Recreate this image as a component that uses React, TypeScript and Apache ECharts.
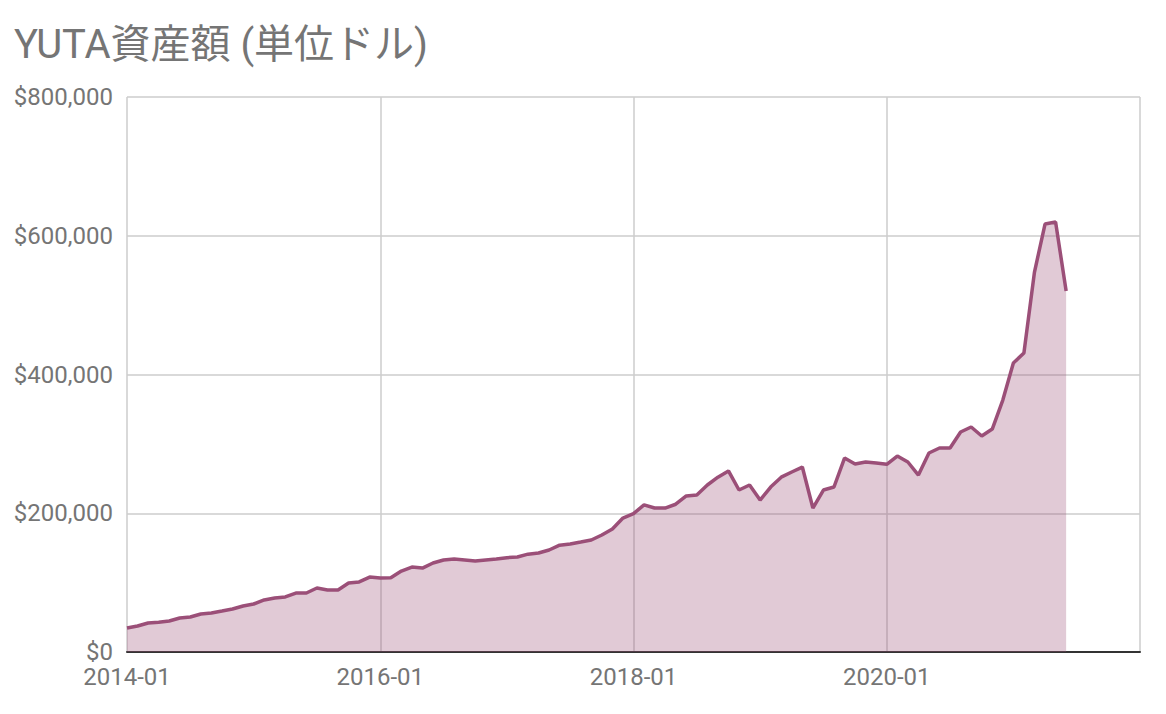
import React, { useEffect, useRef } from "react";
import * as echarts from "echarts";

const titleText = "YUTA資産額 (単位ドル)";

// monthly asset values from 2014-01 to 2021-06 (USD)
const assetValues = [
  34600, 37500, 41800, 43000, 44700, 49000, 50400, 54800, 56200, 59000, 62000, 66300,
  69200, 75000, 77800, 79300, 85000, 85000, 92200, 89400, 89400, 99500, 101000, 108000,
  106700, 107000, 116700, 122500, 121000, 128300, 132600, 134000, 132600, 131200, 132600, 134000,
  136000, 137000, 141000, 142700, 147000, 154000, 155700, 158500, 161400, 168600, 177300, 193100,
  199500, 212000, 207500, 207500, 213000, 225000, 226300, 240700, 252000, 261000, 233500, 240700,
  219000, 237800, 252000, 259500, 266600, 207500, 233500, 237800, 279600, 271000, 273900, 272400,
  270500, 282500, 273900, 255100, 286800, 294000, 294000, 317100, 324300, 311300, 321400, 363200,
  416600, 431000, 547700, 616900, 619800, 520300,
];

const startYear = 2014;
const totalMonths = 97; // 2014-01 .. 2022-01
const monthLabels: string[] = [];
for (let i = 0; i < totalMonths; i++) {
  const y = startYear + Math.floor(i / 12);
  const m = (i % 12) + 1;
  monthLabels.push(`${y}-${m < 10 ? "0" + m : m}`);
}
const shownTickLabels = ["2014-01", "2016-01", "2018-01", "2020-01"];
const yTicks = [0, 200000, 400000, 600000, 800000];

export default function App() {
  const ref = useRef<HTMLDivElement>(null);
  useEffect(() => {
    document.body.style.margin = "0";
    const chart = echarts.init(ref.current!, null, { renderer: "svg" });
    const font = "Roboto, 'Noto Sans CJK JP', sans-serif";
    chart.setOption({
      animation: false,
      backgroundColor: "#ffffff",
      title: {
        text: titleText,
        left: 9,
        top: 19,
        textStyle: { fontFamily: font, fontSize: 40, fontWeight: "normal", color: "#757575" },
      },
      grid: { left: 127, right: 26, top: 97, bottom: 62, containLabel: false },
      xAxis: {
        type: "category",
        data: monthLabels,
        boundaryGap: false,
        axisLine: { show: true, lineStyle: { color: "#333333", width: 2 } },
        axisTick: { show: false },
        axisLabel: {
          interval: 23,
          margin: 14,
          fontFamily: font,
          fontSize: 24,
          lineHeight: 22,
          color: "#757575",
          formatter: (v: string) => (shownTickLabels.indexOf(v) >= 0 ? v : ""),
        },
        splitLine: { show: true, interval: 23, lineStyle: { color: "#cccccc", width: 1.5 } },
      },
      yAxis: {
        type: "value",
        min: yTicks[0],
        max: yTicks[yTicks.length - 1],
        interval: 200000,
        axisLine: { show: false },
        axisTick: { show: false },
        axisLabel: {
          margin: 14,
          fontFamily: font,
          fontSize: 24,
          lineHeight: 20,
          padding: [0, 0, 6, 0],
          color: "#757575",
          formatter: (v: number) => "$" + v.toLocaleString("en-US"),
        },
        splitLine: { show: true, lineStyle: { color: "#cccccc", width: 1.5 } },
      },
      series: [
        {
          type: "line",
          data: assetValues,
          showSymbol: false,
          symbol: "none",
          lineStyle: { color: "#9b4f78", width: 3.5 },
          areaStyle: { color: "#9b4f78", opacity: 0.3 },
          z: 3,
        },
      ],
    });
    return () => chart.dispose();
  }, []);
  return <div ref={ref} style={{ width: 1166, height: 714 }} />;
}
